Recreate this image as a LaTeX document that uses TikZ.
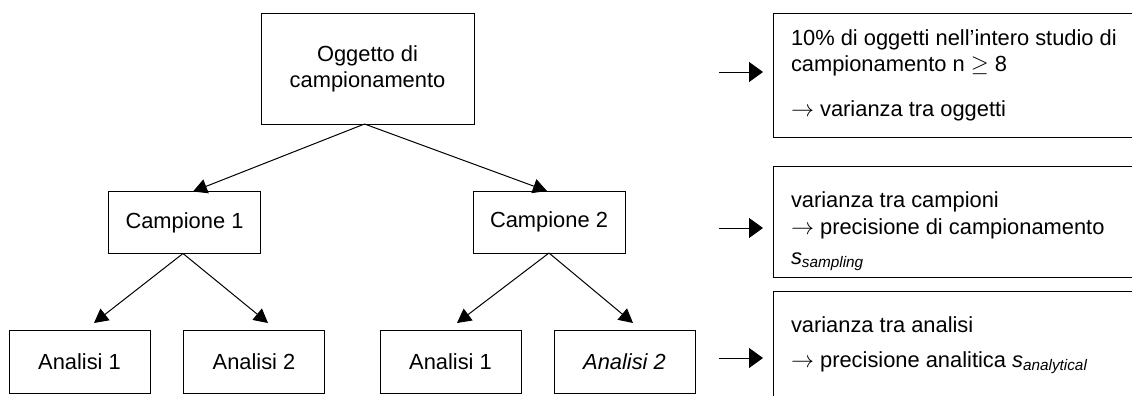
\documentclass[tikz,border=0pt]{standalone}
\usepackage{fontspec}
\setmainfont{Liberation Sans}
\usetikzlibrary{arrows.meta,calc}

\tikzset{
  every picture/.style={x=0.75pt,y=-0.75pt},
  txt/.style={font=\fontsize{16.4}{19.5}\selectfont, inner sep=0pt, outer sep=0pt},
  box/.style={draw=black, line width=0.75pt, inner sep=0pt, outer sep=0pt, txt, align=center},
  objbox/.style={box, minimum width=159.75pt, minimum height=83.25pt},
  campbox/.style={box, minimum width=114pt, minimum height=46.5pt},
  anbox/.style={box, minimum width=105.75pt, minimum height=47.25pt},
  notebox/.style={draw=black, line width=0.75pt, inner sep=0pt, outer sep=0pt, minimum width=275.25pt},
  note/.style={txt, anchor=base west},
  treearrow/.style={line width=0.75pt, -{Triangle[length=10.5pt,width=11pt]}},
  sidearrow/.style={line width=0.75pt, -{Triangle[length=10.5pt,width=15pt]}}
}

\begin{document}
\begin{tikzpicture}
\useasboundingbox (0,0) rectangle (1132,396);
\clip (0,0) rectangle (1132,396);

% sampling tree
\node[objbox] (obj) at (367.5,68.5) {Oggetto di\\campionamento};
\node[campbox] (camp1) at (184.5,222.5) {Campione 1};
\node[campbox] (camp2) at (549,222) {Campione 2};
\node[anbox] (an11) at (79.5,361.5) {Analisi 1};
\node[anbox] (an12) at (254,361.5) {Analisi 2};
\node[anbox] (an21) at (450.5,361.5) {Analisi 1};
\node[anbox] (an22) at (624.5,361.5) {\textit{Analisi 2}};

\draw[treearrow] ($(obj.south)+(-3,0)$) -- ($(camp1.north)+(8.5,0)$);
\draw[treearrow] ($(obj.south)+(-3,0)$) -- ($(camp2.north)+(-2,0)$);
\draw[treearrow] ($(camp1.south)+(-1.5,0)$) -- ($(an11.north)+(14.5,-7)$);
\draw[treearrow] ($(camp1.south)+(-1.5,0)$) -- ($(an12.north)+(14,-7)$);
\draw[treearrow] (camp2.south) -- ($(an21.north)+(6.5,-7)$);
\draw[treearrow] (camp2.south) -- ($(an22.north)+(8.5,-7)$);

% variance notes
\node[notebox, minimum height=93pt] (r1) at (956.5,75) {};
\node[notebox, minimum height=83.25pt] (r2) at (956.5,221.5) {};
\node[notebox, minimum height=85.5pt] (r3) at (956.5,348) {};

\node[note] (t11) at (791,45) {10\% di oggetti nell’intero studio di};
\node[note] (t12) at (791,71) {campionamento n $\geq$ 8};
\node[note] (t13) at (791,116) {$\rightarrow$ varianza tra oggetti};

\node[note] (t21) at (791,207) {varianza tra campioni};
\node[note] (t22) at (791,234) {$\rightarrow$ precisione di campionamento};
\node[note] (t23) at (791,264) {\textit{s}\textsubscript{\textit{sampling}}};

\node[note] (t31) at (791,332) {varianza tra analisi};
\node[note] (t32) at (791,367) {$\rightarrow$ precisione analitica \textit{s}\textsubscript{\textit{analytical}}};

% pointers to the notes
\coordinate (p1) at (719,72);
\coordinate (p2) at (719,228);
\coordinate (p3) at (719,358);
\draw[sidearrow] (p1) -- ($(r1.west |- p1)+(-10,0)$);
\draw[sidearrow] (p2) -- ($(r2.west |- p2)+(-10,0)$);
\draw[sidearrow] (p3) -- ($(r3.west |- p3)+(-10,0)$);
\end{tikzpicture}
\end{document}
